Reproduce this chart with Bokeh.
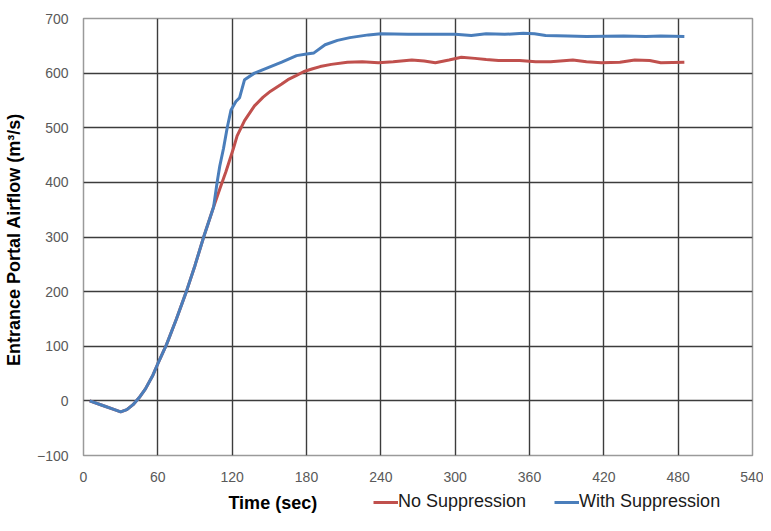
from bokeh.plotting import figure
from bokeh.models import Range1d, Legend, LegendItem, FixedTicker, Label
from bokeh.layouts import column
from bokeh.embed import file_html
from bokeh.resources import INLINE

# Time (sec)
t_no = [5, 15, 25, 30, 35, 40, 45, 50, 56, 60, 67, 75, 83, 90, 97, 105,
        110, 115, 121, 124, 130, 138, 145, 151, 160, 165, 172, 178, 185, 191,
        200, 213, 225, 238, 250, 265, 275, 284, 295, 305, 316, 325, 335, 352,
        365, 377, 395, 406, 418, 433, 445, 457, 466, 485]
airflow_no = [0, -8, -16, -20, -16, -7, 6, 22, 47, 68, 103, 150, 200, 248, 300, 355,
              388, 420, 462, 485, 513, 540, 556, 567, 580, 588, 596, 603, 608, 612,
              616, 620, 621, 619, 621, 624, 622, 619, 624, 629, 627, 625, 623, 623,
              621, 621, 624, 621, 619, 620, 624, 623, 619, 620]

t_with = [5, 15, 25, 30, 35, 40, 45, 50, 56, 60, 67, 75, 83, 90, 97, 105,
          108, 110, 113, 116, 119, 123, 126, 130, 138, 150, 160, 172, 180, 186,
          195, 205, 215, 230, 240, 262, 300, 313, 325, 340, 355, 364, 373, 391,
          406, 436, 454, 466, 485]
airflow_with = [0, -8, -16, -20, -16, -7, 6, 22, 47, 68, 103, 150, 200, 248, 300, 355,
                402, 430, 462, 500, 532, 548, 555, 588, 600, 611, 620, 632, 635, 637,
                652, 660, 665, 670, 672, 671, 671, 669, 672, 671, 673, 672, 669, 668,
                667, 668, 667, 668, 667]

x_ticks = [0, 60, 120, 180, 240, 300, 360, 420, 480, 540]
y_ticks = [-100, 0, 100, 200, 300, 400, 500, 600, 700]

series_names = ["No Suppression", "With Suppression"]
series_colors = ["#C0504D", "#4A7EBB"]

W = 763
H_MAIN = 489
H_LEG = 26

p = figure(width=W, height=H_MAIN, output_backend="svg", toolbar_location=None,
           x_range=Range1d(0, 540), y_range=Range1d(-100, 700),
           min_border_left=83, min_border_right=11, min_border_top=18,
           min_border_bottom=34)

p.outline_line_color = "#9a9a9a"
p.outline_line_width = 1.5

for ax in (p.xaxis[0], p.yaxis[0]):
    ax.axis_line_color = None
    ax.major_tick_line_color = None
    ax.minor_tick_line_color = None
    ax.major_tick_out = 0
    ax.major_tick_in = 0
    ax.minor_tick_out = 0
    ax.minor_tick_in = 0
    ax.major_label_text_font = "Liberation Sans"
    ax.major_label_text_font_size = "14px"
    ax.major_label_text_color = "#595959"

p.xaxis.ticker = FixedTicker(ticks=x_ticks)
p.yaxis.ticker = FixedTicker(ticks=y_ticks)
p.xaxis.major_label_standoff = 16
p.yaxis.major_label_standoff = 15

p.yaxis.axis_label = "Entrance Portal Airflow  (m³/s)"
p.yaxis.axis_label_text_font = "Liberation Sans"
p.yaxis.axis_label_text_font_size = "18px"
p.yaxis.axis_label_text_font_style = "bold"
p.yaxis.axis_label_text_color = "#000000"
p.yaxis.axis_label_standoff = 10

p.xgrid.ticker = FixedTicker(ticks=x_ticks)
p.ygrid.ticker = FixedTicker(ticks=y_ticks)
p.grid.grid_line_color = "#3c3c3c"
p.grid.grid_line_width = 1.4

p.line(t_no, airflow_no, line_color=series_colors[0], line_width=3)
p.line(t_with, airflow_with, line_color=series_colors[1], line_width=3)

# Bottom strip (frame aligned with the chart's frame): axis title and legend.
# Its y range lies far above the data, so the series drawn here stay out of view
# and only serve the legend.
p2 = figure(width=W, height=H_LEG, output_backend="svg", toolbar_location=None,
            x_range=Range1d(0, 540), y_range=Range1d(2000, 2000 + H_LEG),
            x_axis_type=None, y_axis_type=None,
            min_border_left=83, min_border_right=11, min_border_top=0,
            min_border_bottom=0)
p2.outline_line_color = None
p2.grid.visible = False

legend_items = []
for name, col, xs, ys in zip(series_names, series_colors,
                             [t_no, t_with], [airflow_no, airflow_with]):
    r = p2.line(xs, ys, line_color=col, line_width=3)
    legend_items.append(LegendItem(label=name, renderers=[r]))

legend = Legend(items=legend_items, location=(290, 3), orientation="horizontal",
                glyph_width=25, glyph_height=20, label_height=20,
                label_standoff=0, spacing=28, padding=0, margin=0,
                label_text_font="Liberation Sans", label_text_font_size="18px",
                label_text_color="#1a1a1a",
                background_fill_alpha=0, border_line_color=None)
p2.add_layout(legend)

p2.add_layout(Label(x=117, y=2000 + H_LEG / 2, text="Time (sec)",
                    text_font="Liberation Sans",
                    text_font_size="18px", text_font_style="bold",
                    text_align="left", text_baseline="middle", text_color="#000000"))

layout = column(p, p2, spacing=0)
open("out.html", "w").write(file_html(layout, INLINE))
